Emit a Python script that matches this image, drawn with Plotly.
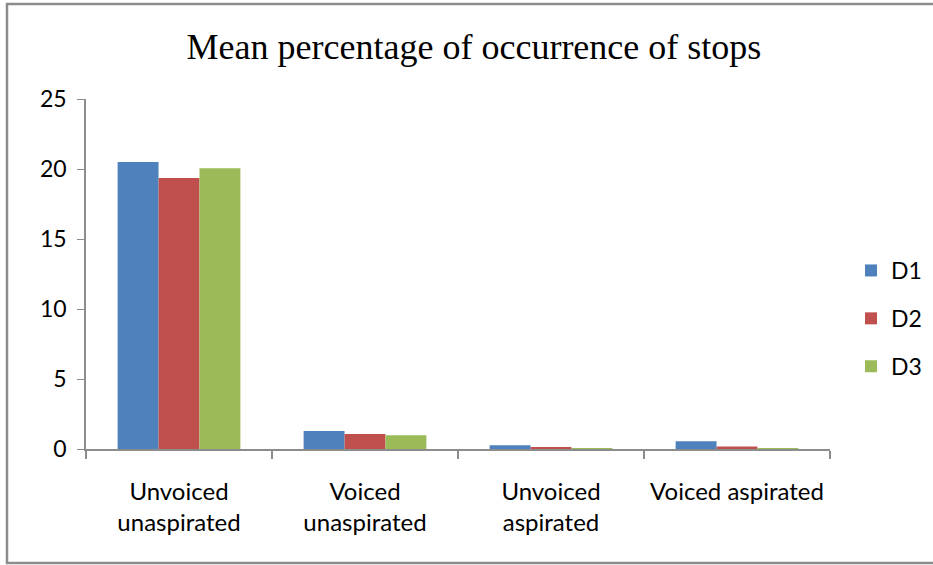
import plotly.graph_objects as go

categories = ["Unvoiced<br>unaspirated", "Voiced<br>unaspirated", "Unvoiced<br>aspirated", "Voiced aspirated"]
series_names = ["D1", "D2", "D3"]
d1 = [20.5, 1.28, 0.27, 0.55]
d2 = [19.35, 1.07, 0.1, 0.17]
d3 = [20.05, 0.98, 0.02, 0.07]
colors = ["#4F81BD", "#C0504D", "#9BBB59"]
y_ticks = [0, 5, 10, 15, 20, 25]

fig = go.Figure()
for name, vals, col in zip(series_names, [d1, d2, d3], colors):
    fig.add_trace(go.Bar(x=categories, y=vals, name=name, marker_color=col,
                         marker_line_width=0, legendgroup=name))

W, H = 933, 565
l, r, t, b = 86, 103, 99, 116
pw, ph = W - l - r, H - t - b

def px(xp):
    return (xp - l) / pw

def py(yp):
    return (H - b - yp) / ph

fig.update_layout(
    width=W, height=H,
    margin=dict(l=l, r=r, t=t, b=b, autoexpand=False),
    paper_bgcolor="white", plot_bgcolor="white",
    barmode="group", bargap=0.34, bargroupgap=0,
    title=dict(text="Mean percentage of occurrence of stops",
               font=dict(family="Liberation Serif", size=36, color="black"),
               x=0.508, xanchor="center", y=1 - 46 / H, yanchor="middle"),
    font=dict(family="Lato", size=23, color="black"),
    legend=dict(x=px(851), y=py(249), xanchor="left", yanchor="top",
                font=dict(size=23), tracegroupgap=15, traceorder="grouped",
                itemwidth=30, bgcolor="rgba(0,0,0,0)"),
    showlegend=True,
    shapes=[dict(type="rect", xref="paper", yref="paper",
                 x0=px(7), x1=px(945), y0=py(563), y1=py(4),
                 line=dict(color="#8C8C8C", width=2.5), layer="below")],
)
fig.update_xaxes(showline=True, linecolor="#8C8C8C", linewidth=2,
                 ticks="outside", tickson="boundaries", ticklen=8,
                 tickcolor="#8C8C8C", tickwidth=1.5, showgrid=False,
                 ticklabelstandoff=20,
                 tickfont=dict(family="Lato", size=24))
fig.update_yaxes(range=[0, 25], tickvals=y_ticks, showline=True,
                 linecolor="#8C8C8C", linewidth=1.5, ticks="outside", ticklen=7,
                 tickcolor="#8C8C8C", showgrid=False, zeroline=False,
                 ticklabelstandoff=6,
                 tickfont=dict(family="Lato", size=23))

fig.write_html("out.html", config={"displayModeBar": False},
               post_script="document.body.style.margin='0';")
